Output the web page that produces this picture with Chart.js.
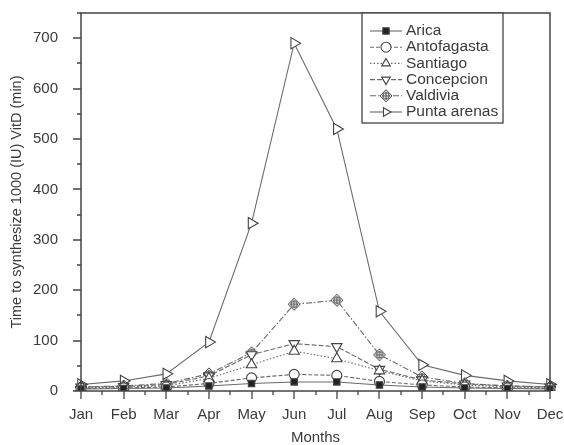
<!DOCTYPE html>
<html>
<head>
<meta charset="utf-8">
<script src="https://cdn.jsdelivr.net/npm/chart.js@4.4.1/dist/chart.umd.min.js"></script>
<style>
  html, body { margin: 0; padding: 0; background: #fff; }
  canvas { display: block; }
</style>
</head>
<body>
<canvas id="c" width="564" height="445"></canvas>
<script>
// Vitamin D synthesis time by month, six Chilean cities.
const months = ["Jan", "Feb", "Mar", "Apr", "May", "Jun", "Jul", "Aug", "Sep", "Oct", "Nov", "Dec"];
const arica       = [4, 5, 6, 10, 15, 18, 18, 12, 8, 6, 5, 4];
const antofagasta = [5, 6, 8, 15, 26, 33, 31, 19, 12, 8, 6, 5];
const santiago    = [6, 8, 10, 25, 52, 79, 64, 40, 20, 12, 8, 6];
const concepcion  = [8, 9, 13, 30, 72, 94, 88, 43, 22, 14, 10, 8];
const valdivia    = [8, 10, 15, 34, 76, 172, 180, 72, 28, 15, 10, 8];
const puntaArenas = [13, 20, 34, 97, 333, 690, 520, 158, 52, 31, 20, 13];
const yTicks = [0, 100, 200, 300, 400, 500, 600, 700];

const INK = "#3a3a3a";
const LINE = "#6a6a6a";
const FONT = "'Liberation Sans', Arial, sans-serif";

// diamond with a cross inside (Valdivia marker)
function diamondCross() {
  const s = 14, c = document.createElement("canvas");
  c.width = s; c.height = s;
  const g = c.getContext("2d");
  g.strokeStyle = "#444"; g.lineWidth = 1; g.fillStyle = "#fff";
  g.beginPath();
  g.moveTo(7, 1); g.lineTo(13, 7); g.lineTo(7, 13); g.lineTo(1, 7); g.closePath();
  g.fill(); g.stroke();
  g.beginPath(); g.arc(7, 7, 3.2, 0, Math.PI * 2); g.stroke();
  g.beginPath(); g.moveTo(7, 3); g.lineTo(7, 11); g.moveTo(3, 7); g.lineTo(11, 7); g.stroke();
  return c;
}

const ds = (label, data, dash, style, extra) => Object.assign({
  label, data, borderColor: LINE, borderWidth: 1.1, borderDash: dash,
  pointStyle: style, pointRadius: 5, pointBorderColor: "#444",
  pointBackgroundColor: "#fff", pointBorderWidth: 1.1, tension: 0,
}, extra || {});

const datasets = [
  ds("Arica", arica, [], "rect", { pointBackgroundColor: "#222", pointRadius: 4.5 }),
  ds("Antofagasta", antofagasta, [4, 2], "circle"),
  ds("Santiago", santiago, [1.5, 2], "triangle", { pointRadius: 6 }),
  ds("Concepcion", concepcion, [5, 2], "triangle", { pointRotation: 180, pointRadius: 6 }),
  ds("Valdivia", valdivia, [6, 2, 1.5, 2], diamondCross()),
  ds("Punta arenas", puntaArenas, [], "triangle", { pointRotation: 90, pointRadius: 6.5 }),
];

// frame round the plot, outward ticks with minor ticks between
const frameTicks = {
  id: "frameTicks",
  afterDatasetsDraw(chart) {
    const { ctx, chartArea: a, scales: { x, y } } = chart;
    ctx.save();
    ctx.strokeStyle = "#444";
    ctx.lineWidth = 1.5;
    ctx.strokeRect(a.left, a.top, a.right - a.left, a.bottom - a.top);
    ctx.lineWidth = 1.3;
    ctx.beginPath();
    for (let v = 0; v <= y.max; v += 50) {
      const py = Math.round(y.getPixelForValue(v));
      const len = v % 100 === 0 ? 8 : 4;
      ctx.moveTo(a.left - len, py); ctx.lineTo(a.left, py);
    }
    for (let i = 0; i < months.length; i++) {
      const px = Math.round(x.getPixelForValue(i));
      ctx.moveTo(px, a.bottom); ctx.lineTo(px, a.bottom + 8);
      if (i < months.length - 1) {
        const mx = Math.round((x.getPixelForValue(i) + x.getPixelForValue(i + 1)) / 2);
        ctx.moveTo(mx, a.bottom); ctx.lineTo(mx, a.bottom + 4);
      }
    }
    ctx.stroke();
    ctx.restore();
  },
};

// boxed legend in the upper right of the plot
const boxLegend = {
  id: "boxLegend",
  afterDraw(chart) {
    const { ctx, chartArea: a } = chart;
    const bx = a.right - 188, by = a.top, bw = 141, bh = 110;
    ctx.save();
    ctx.fillStyle = "#fff";
    ctx.fillRect(bx, by, bw, bh);
    ctx.strokeStyle = "#444";
    ctx.lineWidth = 1.3;
    ctx.strokeRect(bx, by, bw, bh);
    ctx.font = "15.5px " + FONT;
    ctx.textBaseline = "middle";
    chart.data.datasets.forEach((d, i) => {
      const cy = by + 18 + i * 16.2;
      ctx.strokeStyle = d.borderColor;
      ctx.lineWidth = d.borderWidth;
      ctx.setLineDash(d.borderDash);
      ctx.beginPath(); ctx.moveTo(bx + 8, cy); ctx.lineTo(bx + 40, cy); ctx.stroke();
      ctx.setLineDash([]);
      ctx.fillStyle = d.pointBackgroundColor;
      ctx.strokeStyle = d.pointBorderColor;
      ctx.lineWidth = d.pointBorderWidth;
      Chart.helpers.drawPoint(ctx, {
        pointStyle: d.pointStyle, rotation: d.pointRotation || 0,
        radius: Math.min(d.pointRadius, 5), borderWidth: d.pointBorderWidth,
      }, bx + 24, cy);
      ctx.fillStyle = INK;
      ctx.fillText(d.label, bx + 44, cy);
    });
    ctx.restore();
  },
};

new Chart(document.getElementById("c"), {
  type: "line",
  data: { labels: months, datasets },
  plugins: [frameTicks, boxLegend],
  options: {
    responsive: false,
    animation: false,
    layout: { padding: { top: 13, right: 14, left: 0, bottom: 0 } },
    plugins: { legend: { display: false }, tooltip: { enabled: false } },
    scales: {
      x: {
        type: "category", offset: false,
        grid: { display: false },
        border: { display: false },
        ticks: { color: INK, font: { family: FONT, size: 15 }, padding: 7, maxRotation: 0, autoSkip: false },
        title: { display: true, text: "Months", color: INK, font: { family: FONT, size: 15 }, padding: { top: 0, bottom: -2 } },
        afterFit: (s) => { s.height = 54; s.paddingLeft = 0; s.paddingRight = 0; },
      },
      y: {
        min: 0, max: 750,
        grid: { display: false },
        border: { display: false },
        afterBuildTicks: (s) => { s.ticks = yTicks.map((v) => ({ value: v })); },
        ticks: { color: INK, font: { family: FONT, size: 15 }, padding: 15 },
        title: { display: true, text: "Time to synthesize 1000 (IU) VitD (min)", color: INK, font: { family: FONT, size: 14.5 }, padding: { top: 8, bottom: 0 } },
        afterFit: (s) => { s.width = 81; s.paddingTop = 0; s.paddingBottom = 0; },
      },
    },
  },
});
</script>
</body>
</html>
